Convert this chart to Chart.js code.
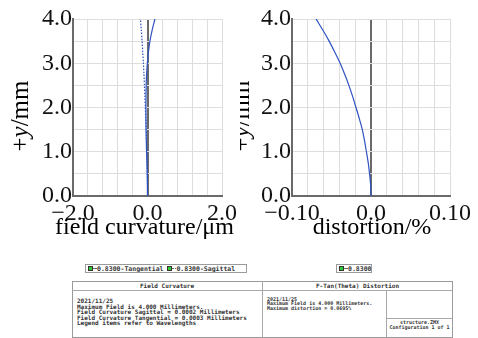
<!DOCTYPE html>
<html>
<head>
<meta charset="utf-8">
<title>Field curvature / F-Tan(Theta) distortion</title>
<script src="https://cdn.jsdelivr.net/npm/chart.js@4.4.1/dist/chart.umd.min.js"></script>
<style>
  body { margin: 0; background: #fff; }
  #page { position: relative; width: 478px; height: 338px; overflow: hidden;
          font-family: "DejaVu Sans Mono", "Liberation Mono", monospace; color: #333; }
  .plot { position: absolute; top: 0; height: 250px; }
  .box { position: absolute; border: 1px solid #9a9a9a; box-sizing: border-box; }
  .ln { position: absolute; background: #a8a8a8; }
  .txt { position: absolute; white-space: pre; font-weight: bold; }
  .legend { font-size: 6.5px; line-height: 8px; padding-left: 2px; white-space: nowrap; overflow: hidden; font-weight: bold; }
  .sw { display: inline-block; width: 3px; height: 3px; border: 1px solid #333; background: #3c3;
        vertical-align: 0px; }
  .dash { display: inline-block; width: 4px; border-top: 1px solid #666; vertical-align: 2px; }
  .dots { display: inline-block; width: 4px; border-top: 1px dotted #666; vertical-align: 2px; }
</style>
</head>
<body>
<div id="page">
  <div class="plot" style="left:0;width:240px"><canvas id="fcChart"></canvas></div>
  <div class="plot" style="left:240px;width:238px"><canvas id="distChart"></canvas></div>

  <!-- legends -->
  <div class="box legend" style="left:85px;top:264px;width:162px;height:9px"><span class="sw"></span><span class="dash"></span>0.8300-Tangential <span class="sw"></span><span class="dots"></span>0.8300-Sagittal</div>
  <div class="box legend" style="left:336px;top:264px;width:36px;height:9px"><span class="sw"></span><span class="dash"></span>0.8300</div>

  <!-- info table -->
  <div class="box" style="left:72px;top:281px;width:381px;height:57px"></div>
  <div class="ln" style="left:72px;top:290px;width:381px;height:1px"></div>
  <div class="ln" style="left:262px;top:281px;width:1px;height:57px"></div>
  <div class="ln" style="left:386px;top:290px;width:1px;height:48px"></div>
  <div class="ln" style="left:386px;top:318px;width:67px;height:1px"></div>

  <div class="txt" style="left:72px;top:282px;width:190px;text-align:center;font-size:6px;line-height:8px">Field Curvature</div>
  <div class="txt" style="left:262px;top:282px;width:191px;text-align:center;font-size:6px;line-height:8px">F-Tan(Theta) Distortion</div>
  <div class="txt" style="left:77px;top:298px;font-size:6px;line-height:5.6px">2021/11/25
Maximum Field is 4.000 Millimeters.
Field Curvature Sagittal = 0.0002 Millimeters
Field Curvature Tangential = 0.0003 Millimeters
Legend items refer to Wavelengths</div>
  <div class="txt" style="left:267px;top:297px;font-size:5px;line-height:4.3px">2021/11/25
Maximum Field is 4.000 Millimeters.
Maximum distortion = 0.0695%</div>
  <div class="txt" style="left:386px;top:320px;width:67px;text-align:center;font-size:5px;line-height:4.6px">structure.ZMX
Configuration 1 of 1</div>
</div>

<script>
// field heights (mm) at which the curves were read
const fieldY = [0, 0.25, 0.5, 0.75, 1.0, 1.25, 1.5, 1.75, 2.0, 2.25, 2.5, 2.75, 3.0, 3.25, 3.5, 3.75, 4.0];
// field curvature (um)
const tangential = [0, -0.002, -0.008, -0.016, -0.025, -0.032, -0.038, -0.041, -0.042, -0.040, -0.035, -0.024, -0.004, 0.025, 0.065, 0.125, 0.2];
const sagittal = [0, -0.001, -0.004, -0.010, -0.018, -0.026, -0.035, -0.046, -0.058, -0.070, -0.082, -0.095, -0.110, -0.127, -0.145, -0.166, -0.19];
// distortion (%)
const distortion = [0, -0.0005, -0.0018, -0.0035, -0.0058, -0.0082, -0.011, -0.0148, -0.019, -0.0233, -0.028, -0.0333, -0.039, -0.0458, -0.053, -0.061, -0.0695];

// labelled ticks
const yTickValues = [0, 1, 2, 3, 4];
const yTickLabels = ['0.0', '1.0', '2.0', '3.0', '4.0'];
const fcTickValues = [-2, 0, 2];
const fcTickLabels = ['\u22122.0', '0.0', '2.0'];
const distTickValues = [-0.1, 0, 0.1];
const distTickLabels = ['\u22120.10', '0.0', '0.10'];

const blue = '#2f52c2';
const serif = '"Liberation Serif", "Times New Roman", serif';

function toPoints(xs) {
  return xs.map((x, i) => ({ x: x, y: fieldY[i] }));
}

function labelFor(values, labels, v, eps) {
  const i = values.findIndex(t => Math.abs(t - v) < eps);
  return i >= 0 ? labels[i] : '';
}

// axis titles drawn by hand so the x title is not squeezed to the plot width
const axisTitles = {
  id: 'axisTitles',
  afterDraw(chart, args, opts) {
    const { ctx, chartArea } = chart;
    ctx.save();
    ctx.fillStyle = '#000';
    ctx.textAlign = 'center';
    ctx.textBaseline = 'alphabetic';
    ctx.font = '24px ' + serif;
    ctx.fillText(opts.xText, (chartArea.left + chartArea.right) / 2 + opts.xShift, 234);

    // "+y/mm" with an italic y, rotated
    const parts = [['+', ''], ['y', 'italic '], ['/mm', '']];
    let total = 0;
    parts.forEach(p => { ctx.font = p[1] + '25px ' + serif; total += ctx.measureText(p[0]).width; });
    ctx.translate(opts.yX, 116);
    ctx.rotate(-Math.PI / 2);
    ctx.textAlign = 'left';
    ctx.textBaseline = 'middle';
    let x = -total / 2;
    parts.forEach(p => {
      ctx.font = p[1] + '25px ' + serif;
      ctx.fillText(p[0], x, 0);
      x += ctx.measureText(p[0]).width;
    });
    ctx.restore();
  }
};

function makeChart(id, datasets, xr, xTitle, xShift, yWidth, yX, rightPad) {
  return new Chart(document.getElementById(id), {
    type: 'scatter',
    data: { datasets: datasets },
    plugins: [axisTitles],
    options: {
      responsive: true,
      maintainAspectRatio: false,
      animation: false,
      layout: { padding: { top: 19, right: rightPad, bottom: 0, left: 0 } },
      plugins: {
        legend: { display: false },
        tooltip: { enabled: false },
        axisTitles: { xText: xTitle, xShift: xShift, yX: yX }
      },
      scales: {
        x: {
          min: xr.min, max: xr.max,
          afterFit: s => { s.height = 54; },
          ticks: {
            stepSize: xr.step, autoSkip: false, maxRotation: 0, padding: 3,
            color: '#111', font: { family: serif, size: 24 },
            callback: v => labelFor(xr.values, xr.labels, v, xr.step / 10)
          },
          grid: {
            drawTicks: false,
            color: c => Math.abs(c.tick.value) < xr.step / 10 ? '#6a6a6a' : '#dedede',
            lineWidth: c => Math.abs(c.tick.value) < xr.step / 10 ? 2 : 1
          },
          border: { color: '#6a6a6a', width: 2 }
        },
        y: {
          min: 0, max: 4,
          afterFit: s => { s.width = yWidth; },
          ticks: {
            stepSize: 0.5, autoSkip: false, padding: 1,
            color: '#111', font: { family: serif, size: 24 },
            callback: v => labelFor(yTickValues, yTickLabels, v, 0.01)
          },
          grid: { drawTicks: false, color: '#dedede', lineWidth: 1 },
          border: { color: '#6a6a6a', width: 2 }
        }
      }
    }
  });
}

makeChart('fcChart', [
  { data: toPoints(tangential), showLine: true, borderColor: blue, borderWidth: 1.2,
    pointRadius: 0, tension: 0.3 },
  { data: toPoints(sagittal), showLine: true, borderColor: blue, borderWidth: 1.2,
    borderDash: [1.5, 1.5], pointRadius: 0, tension: 0.3 }
], { min: -2, max: 2, step: 0.4, values: fcTickValues, labels: fcTickLabels },
   'field curvature/\u03bcm', -3, 73, 21.5, 18);

makeChart('distChart', [
  { data: toPoints(distortion), showLine: true, borderColor: blue, borderWidth: 1.2,
    pointRadius: 0, tension: 0.3 }
], { min: -0.1, max: 0.1, step: 0.02, values: distTickValues, labels: distTickLabels },
   'distortion/%', 1, 52, 2.5, 28);
</script>
</body>
</html>
